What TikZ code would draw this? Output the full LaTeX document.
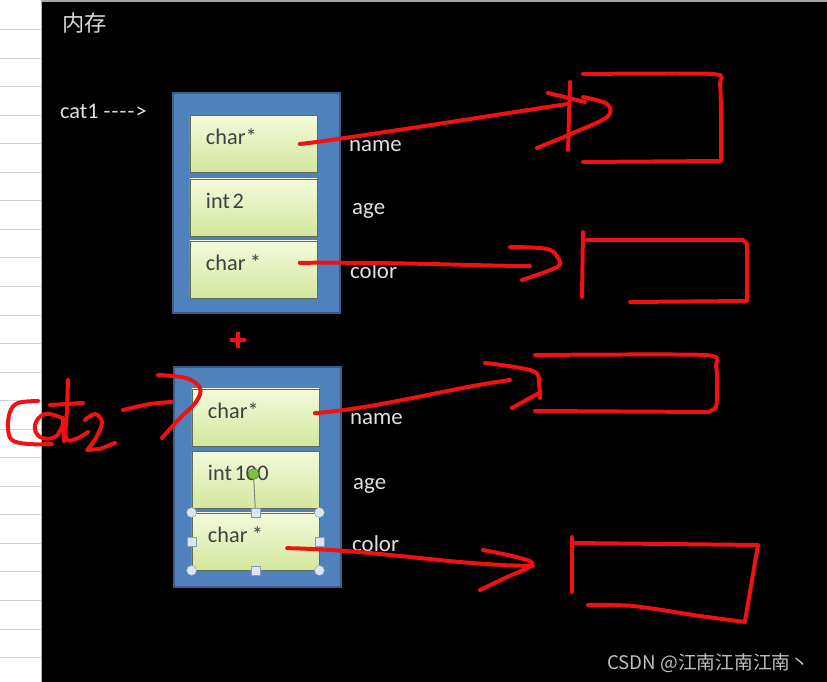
\documentclass[tikz,border=0pt]{standalone}
\usepackage{fontspec}
\setmainfont{Carlito}
\newfontfamily\cjk{Noto Sans CJK SC}
\definecolor{boxblue}{HTML}{4F81BD}
\definecolor{boxedge}{HTML}{385D8A}
\definecolor{celltop}{HTML}{F3FADA}
\definecolor{cellbot}{HTML}{D3E79E}
\definecolor{celledge}{HTML}{5F6E52}
\definecolor{penred}{HTML}{F21010}
\definecolor{handle}{HTML}{DCE6F2}
\definecolor{handleedge}{HTML}{7F9DB9}
\definecolor{rotgreen}{HTML}{7CC242}
\newcommand{\selhandles}[1]{
  \foreach \a [count=\i] in {north west,north east,south west,south east}
    \node[hround] (#1r\i) at (#1.\a) {};
  \foreach \a [count=\i] in {north,south,west,east}
    \node[hsquare] (#1s\i) at (#1.\a) {};
}

\begin{document}
\begin{tikzpicture}[x=0.03cm,y=-0.03cm,
    cell/.style={draw=celledge,line width=0.8pt,top color=celltop,bottom color=cellbot,
      minimum width=3.81cm,minimum height=1.71cm,inner xsep=0.48cm,text width=2.85cm,
      text height=0.45cm,text depth=0.39cm,align=left,text=black!75,
      font=\fontsize{19}{22}\selectfont},
    frame/.style={draw=boxedge,line width=1.2pt,fill=boxblue,minimum width=5cm,
      minimum height=6.6cm,inner sep=0pt},
    field/.style={anchor=base west,inner sep=0pt,text=white!88!black,font=\fontsize{19.5}{22}\selectfont},
    pen/.style={draw=penred,line width=3.4pt,line cap=round,line join=round},
    hround/.style={circle,draw=handleedge,fill=handle,minimum size=0.3cm,inner sep=0pt},
    hsquare/.style={rectangle,draw=handleedge,fill=handle,minimum size=0.27cm,inner sep=0pt}]
  \useasboundingbox (0,0) rectangle (827,682);
  \fill[black] (0,0) rectangle (827,682);
  \fill[white] (0,0) rectangle (42,682);
  \fill[black!35] (42,0) rectangle (827,2.5);
  \foreach \k in {0,...,22}
    \draw[black!18,line width=0.8pt] (0,{29.5+28.55*\k}) -- (41,{29.5+28.55*\k});
  \draw[black!30,line width=0.8pt] (41.5,0) -- (41.5,682);

  \node[anchor=west,inner sep=0pt,text=white!85!black,font=\cjk\fontsize{19}{22}\selectfont] (title) at (62,23) {内存};
  \node[anchor=base west,inner sep=0pt,text=white!88!black,font=\fontsize{19}{22}\selectfont] (cat1) at (60,119) {cat1 -\kern1pt-\kern1pt-\kern1pt-\kern1pt>};

  \node[frame] (m1) at (256.5,203) {};
  \node[cell] (c1a) at (253.5,144) {char*};
  \node[cell] (c1b) at (253.5,207.5) {int\hspace{0.12em}2};
  \node[cell] (c1c) at (253.5,269.5) {char\hspace{0.2em}*};
  \node[field] (f1a) at (349,152) {name};
  \node[field] (f1b) at (352,215) {age};
  \node[field] (f1c) at (350,279) {color};

  \node[frame] (m2) at (257.5,477) {};
  \node[cell] (c2a) at (255.5,417.5) {char*};
  \node[cell] (c2b) at (255.5,480) {int\hspace{0.12em}100};
  \node[cell] (c2c) at (255.5,541.5) {char\hspace{0.2em}*};
  \node[field] (f2a) at (350,425) {name};
  \node[field] (f2b) at (353,490) {age};
  \node[field] (f2c) at (352,552) {color};
  \selhandles{c2c}
  \node[circle,draw=rotgreen!60!black,fill=rotgreen,minimum size=0.33cm,inner sep=0pt] (rot) at (253.5,474) {};
  \draw[black!50,line width=0.8pt] (rot) -- (c2cs1);

  \node[text=white!75!black,anchor=west,inner sep=0pt,font=\cjk\fontsize{16}{18}\selectfont] (mark) at (607,663) {CSDN @江南江南江南丶};

  \coordinate (tipA) at (567,104);
  \coordinate (tipB) at (530,266);
  \coordinate (tipC) at (510,380);
  \coordinate (tipD) at (533,566);
  \draw[pen] ([xshift=1.39cm]c1a.center) .. controls (330,141) and (470,119) .. (tipA);
  \draw[pen] ([xshift=1.39cm,yshift=0.2cm]c1c.center) .. controls (400,262) and (480,266) .. (tipB);
  \draw[pen] ([xshift=1.78cm,yshift=0.13cm]c2a.center) .. controls (380,408) and (450,388) .. (tipC);
  \draw[pen] ([xshift=0.95cm,yshift=-0.2cm]c2c.center) .. controls (380,550) and (450,565) .. (tipD);

  \draw[pen] (548,93) -- (585,102);
  \draw[pen] (570,82) -- (568,150);
  \draw[pen] plot[smooth,tension=0.6] coordinates {(583,97) (607,104) (607,117) (573,133) (537,148)};
  \draw[pen] plot[smooth,tension=0.4] coordinates {(583,74) (713,74) (720,84) (721,120) (721,161)} -- (583,162);

  \draw[pen] plot[smooth,tension=0.6] coordinates {(510,247) (547,249) (558,258) (557,267) (522,280)};
  \draw[pen] (583,232) -- (582,297);
  \draw[pen] (587,240) -- (743,240) -- (747,244) -- (747,301) -- (630,302);

  \draw[pen] plot[smooth,tension=0.6] coordinates {(485,363) (533,371) (539,385) (540,398)};
  \draw[pen] (539,393) -- (512,408);
  \draw[pen] plot[smooth,tension=0.4] coordinates {(535,355) (705,355) (716,366) (717,390) (716,407) (708,412)} -- (535,411);

  \draw[pen] plot[smooth,tension=0.6] coordinates {(483,550) (520,558) (532,565) (505,578) (480,590)};
  \draw[pen] (572,537) -- (572,592);
  \draw[pen] (572,543) -- (758,545) -- (745,621);
  \draw[pen] plot[smooth,tension=0.5] coordinates {(588,605) (633,606) (700,616) (745,622)};

  \draw[pen,line width=2.6pt] (231,340) -- (245,340);
  \draw[pen,line width=2.6pt] (238,333) -- (238,347);

  \draw[pen] plot[smooth,tension=0.6] coordinates {(38,401) (18,403) (10,412) (8,428) (12,440) (28,444) (52,444)};
  \draw[pen] plot[smooth,tension=0.7] coordinates {(62,418) (45,414) (35,425) (40,437) (55,437) (63,424)};
  \draw[pen] (63,418) -- (64,441);
  \draw[pen] plot[smooth,tension=0.6] coordinates {(68,380) (67,410) (66,438) (76,439) (88,432)};
  \draw[pen] (50,405) -- (83,403);
  \draw[pen] plot[smooth,tension=0.6] coordinates {(85,420) (95,414) (102,422) (96,438) (87,450)} -- (100,449) -- (115,443);
  \draw[pen] plot[smooth,tension=0.6] coordinates {(123,410) (150,404) (172,402)};
  \draw[pen] plot[smooth,tension=0.6] coordinates {(158,375) (186,378) (200,388) (196,402) (180,418) (162,438)};
\end{tikzpicture}
\end{document}
